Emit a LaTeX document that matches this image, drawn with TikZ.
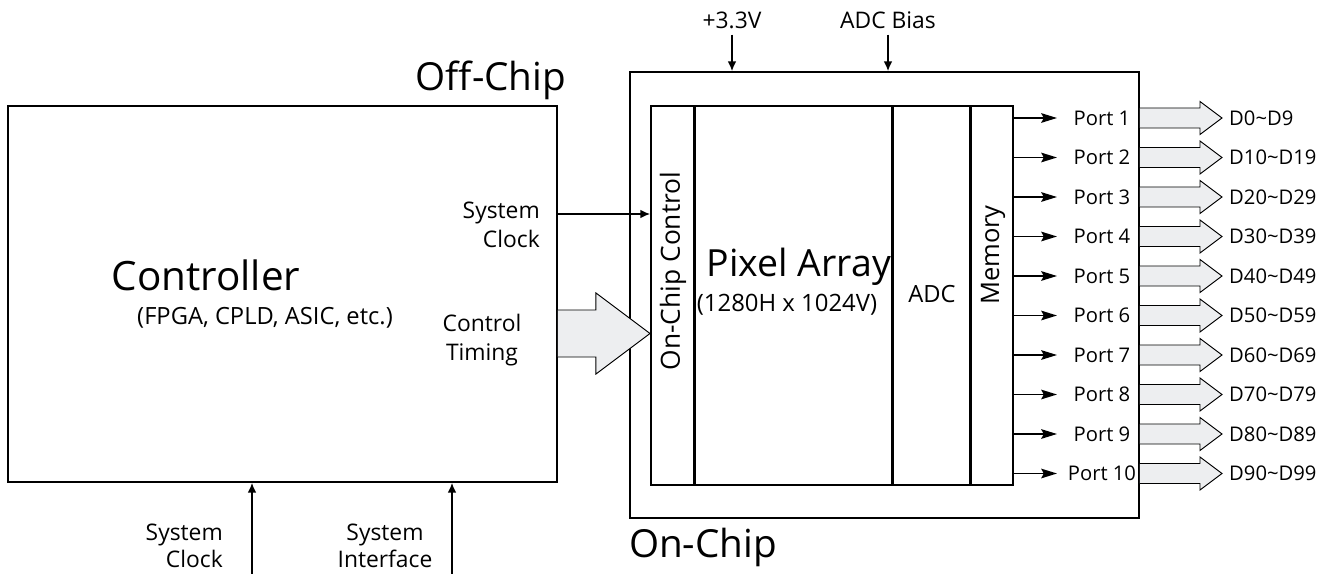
\documentclass[tikz,border=0pt]{standalone}
\usepackage{fontspec}
\setmainfont{Open Sans}
\usetikzlibrary{arrows.meta,calc,positioning,fit}
\definecolor{busfill}{HTML}{EDEEF0}
\tikzset{>=Latex,
  every node/.style={font=\fontsize{13}{16.5}\selectfont},
  small/.style={font=\fontsize{11.5}{14}\selectfont},
  block/.style={draw,line width=1.1pt,inner sep=0pt},
  sig/.style={->,line width=.85pt,>={Latex[length=5.5pt,width=5pt]}},
  portsig/.style={->,line width=.85pt,>={Stealth[length=9pt,width=5.5pt,inset=1.5pt]}},
  bus/.style={draw,fill=busfill,line width=.55pt,line join=miter},
  pics/busarrow/.style args={#1/#2/#3/#4}{code={%
    \filldraw[bus](0,-#2)--(#1,-#2)--(#1,-#3)--(#1+#4,0)--(#1,#3)--(#1,#2)--(0,#2);}}}
\begin{document}
\begin{tikzpicture}[x=.02cm,y=-.02cm]
\useasboundingbox(0,0)rectangle(1331,574);
% off-chip controller
\coordinate(c1)at(8,106);\coordinate(c2)at(557,482);
\node[block,fit=(c1)(c2)](ctrl){};
\node(offtxt)at(491,80){\fontsize{22}{26}\selectfont Off-Chip};
\node(ctrltxt)at(206,275){\fontsize{23}{27}\selectfont Controller};
\node(ctrlsub)at(265,318){\fontsize{13.5}{16}\selectfont(FPGA, CPLD, ASIC, etc.)};
% chip
\coordinate(o1)at(630,72);\coordinate(o2)at(1139,518);
\node[block,fit=(o1)(o2)](chip){};
\node(ontxt)at(703,547){\fontsize{22}{26}\selectfont On-Chip};
\coordinate(a1)at(651,106);\coordinate(a2)at(694,485);
\coordinate(b2)at(892,485);\coordinate(d2)at(970,485);\coordinate(m2)at(1013,485);
\node[block,fit=(a1)(a2)](occ){};
\node[block,fit=(a1-|occ.east)(b2)](pix){};
\node[block,fit=(a1-|pix.east)(d2)](adc){};
\node[block,fit=(a1-|adc.east)(m2)](mem){};
\node[rotate=90](occtxt)at(673,271){\fontsize{15}{18}\selectfont On-Chip Control};
\node(pixtxt)at(799,267){\fontsize{21.3}{25}\selectfont Pixel Array};
\node(pixsub)at(787,305){\fontsize{13.6}{16}\selectfont(1280H x 1024V)};
\node(adctxt)at(932,294){\fontsize{13.5}{16}\selectfont ADC};
\node[rotate=90](memtxt)at(993,255){\fontsize{14.5}{17}\selectfont Memory};
% supplies
\node(vdd)at(732,20){+3.3V};
\node(bias)at(888,20){ADC Bias};
\draw[sig](vdd.south)--(vdd.south|-chip.north);
\draw[sig](bias.south)--(bias.south|-chip.north);
% controller to chip
\coordinate(ck)at(0,214);\coordinate(tm)at(0,333.5);
\node[align=right,anchor=east](clktxt)at(546,225){System\\Clock};
\draw[sig](ctrl.east|-ck)--(occ.west|-ck);
\node[align=center](timtxt)at(482,340){Control\\Timing};
\path(ctrl.east|-tm)pic{busarrow=38/23.5/40.5/54};
% system inputs
\node[align=right,anchor=east,font=\fontsize{13}{15.5}\selectfont](sysclk)at(229,546){System\\Clock};
\node[align=center,font=\fontsize{13}{15.5}\selectfont](sysif)at(385,546){System\\Interface};
\coordinate(in1)at(252,574);\coordinate(in2)at(452,574);
\draw[sig](in1)--(in1|-ctrl.south);
\draw[sig](in2)--(in2|-ctrl.south);
% ports
\foreach \i [evaluate=\i as \y using 118+(\i-1)*39.5,
  evaluate=\i as \lo using int(10*(\i-1)),
  evaluate=\i as \hi using int(10*(\i-1)+9)] in {1,...,10}{
  \coordinate(y\i)at(0,\y);
  \coordinate(p\i)at(mem.east|-y\i);
  \draw[portsig](p\i)--++(43,0);
  \node[small](port\i)at(1102,\y){Port \i};
  \path(chip.east|-y\i)pic{busarrow=60/10/16.5/22};
  \node[small,anchor=west](d\i)at(1223,\y){D\lo\textasciitilde D\hi};
}
\end{tikzpicture}
\end{document}
